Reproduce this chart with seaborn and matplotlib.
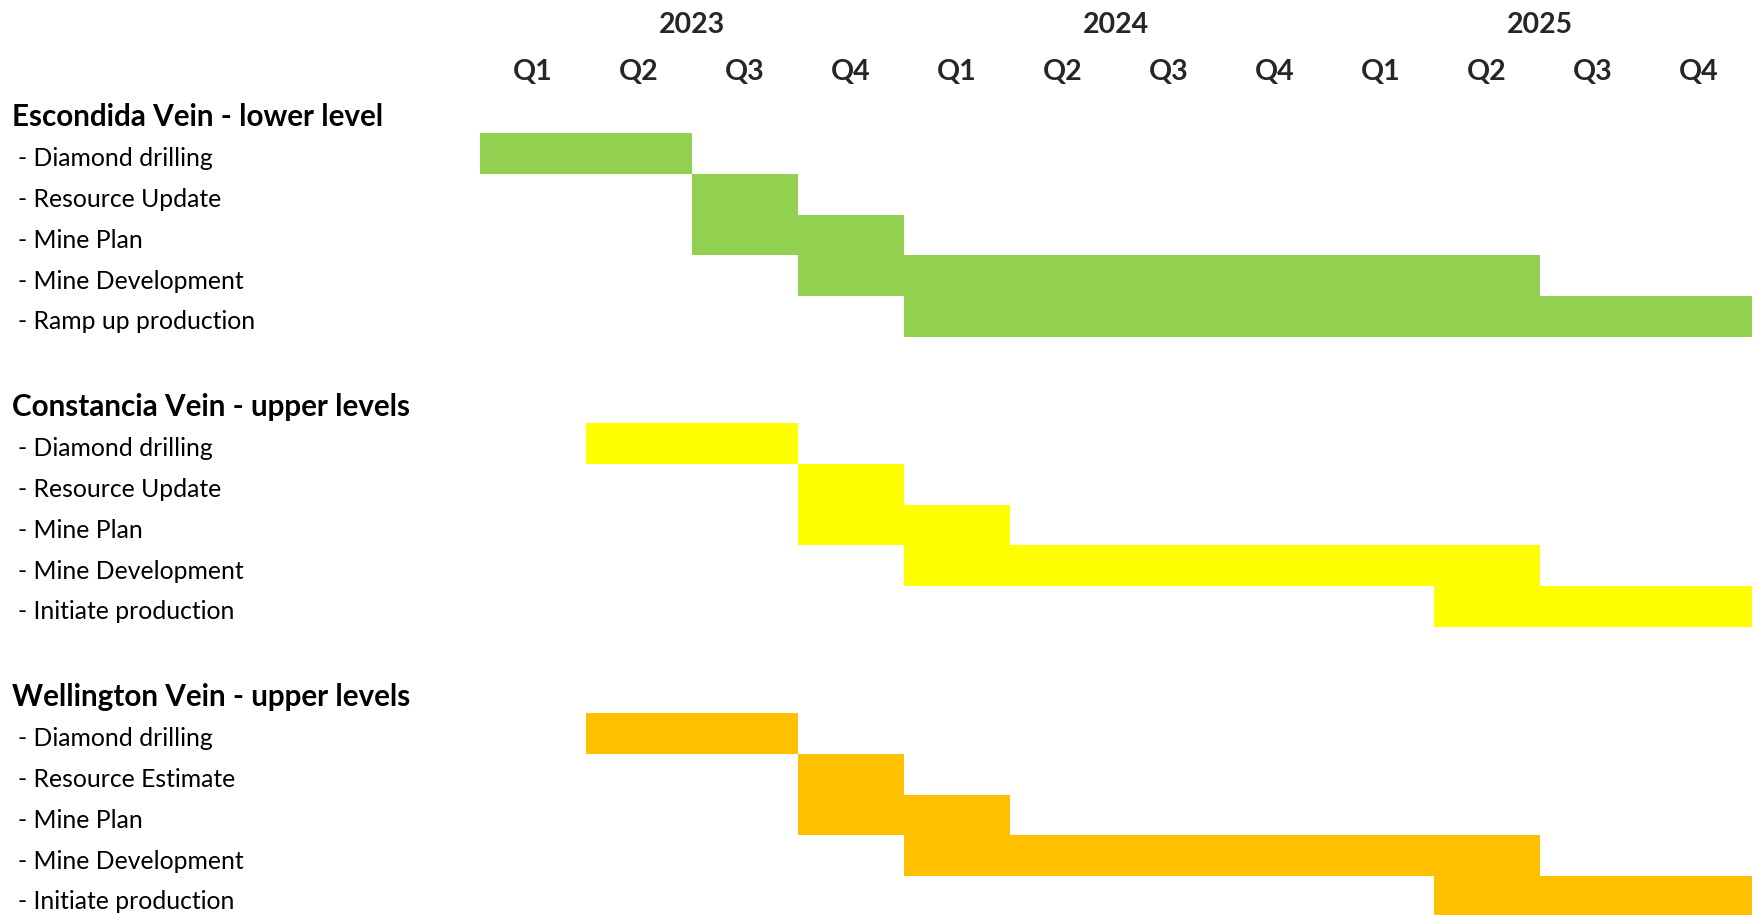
import matplotlib
matplotlib.use("Agg")
import matplotlib.pyplot as plt
import seaborn as sns
import pandas as pd

# ---- data ----
years = ["2023", "2024", "2025"]
quarters = ["Q1", "Q2", "Q3", "Q4"] * 3

groups = ["Escondida Vein - lower level", "Constancia Vein - upper levels", "Wellington Vein - upper levels"]
colors = ["#92D050", "#FFFF00", "#FFC000"]

escondida_tasks = ["- Diamond drilling", "- Resource Update", "- Mine Plan", "- Mine Development", "- Ramp up production"]
escondida_start = [0, 2, 2, 3, 4]
escondida_end = [2, 3, 4, 10, 12]

constancia_tasks = ["- Diamond drilling", "- Resource Update", "- Mine Plan", "- Mine Development", "- Initiate production"]
constancia_start = [1, 3, 3, 4, 9]
constancia_end = [3, 4, 5, 10, 12]

wellington_tasks = ["- Diamond drilling", "- Resource Estimate", "- Mine Plan", "- Mine Development", "- Initiate production"]
wellington_start = [1, 3, 3, 4, 9]
wellington_end = [3, 4, 5, 10, 12]

# ---- build table ----
ROW = 40.7          # px per row
STRIDE = 290 / ROW  # rows per group block
BASE = (133.3 + ROW / 2) / ROW
rows = []
for g, (tasks, st, en) in enumerate([(escondida_tasks, escondida_start, escondida_end),
                                     (constancia_tasks, constancia_start, constancia_end),
                                     (wellington_tasks, wellington_start, wellington_end)]):
    for j, (t, s, e) in enumerate(zip(tasks, st, en)):
        rows.append(dict(group=groups[g], task=t, start=s, end=e, y=BASE + g * STRIDE + j, color=colors[g]))
df = pd.DataFrame(rows)

sns.set_theme(style="white")
plt.rcParams["font.family"] = ["Lato", "DejaVu Sans"]

W, H = 1758, 915
fig = plt.figure(figsize=(W / 100, H / 100), dpi=100)
ax = fig.add_axes([0, 0, 1, 1])
QW = 106.0
X0 = 480.0
ax.set_xlim(-X0 / QW, (W - X0) / QW)
ax.set_ylim(H / ROW, 0)
ax.axis("off")

ax.barh(df["y"], df["end"] - df["start"], left=df["start"], height=1.0,
        color=df["color"], edgecolor="none", linewidth=0)

xlab = -X0 / QW + 18 / QW
xhead = -X0 / QW + 12 / QW
for _, r in df.iterrows():
    ax.text(xlab, r["y"] + 0.13, r["task"], ha="left", va="center", fontsize=17.8, color="#000000")
for g, name in enumerate(groups):
    ax.text(xhead, BASE + g * STRIDE - 0.9, name, ha="left", va="center",
            fontsize=21.3, fontweight="bold", color="#000000")

for i, q in enumerate(quarters):
    ax.text(i + 0.5, 71.5 / ROW, q, ha="center", va="center", fontsize=20.5, fontweight="bold")
for k, yr in enumerate(years):
    ax.text(4 * k + 2, 25 / ROW, yr, ha="center", va="center", fontsize=20.5, fontweight="bold")

fig.savefig("out.png", dpi=100, facecolor="white")
